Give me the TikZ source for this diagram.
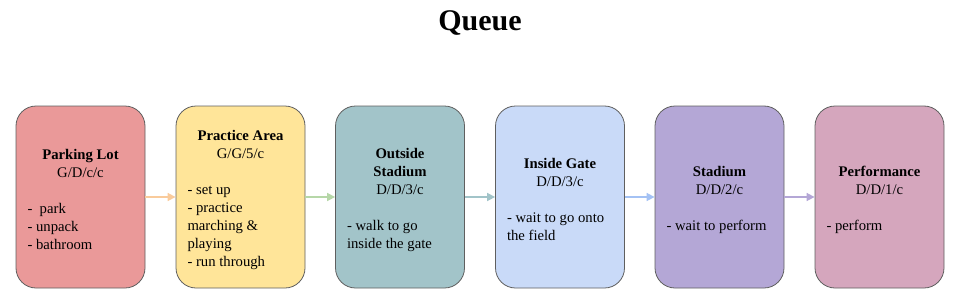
\documentclass[tikz,border=0pt]{standalone}
\usepackage{fontspec}
\setmainfont{Liberation Serif}
\newfontfamily\bodyfont{Liberation Serif}
\usetikzlibrary{arrows.meta}
\definecolor{c1}{HTML}{EA9999}
\definecolor{c2}{HTML}{FFE599}
\definecolor{c3}{HTML}{A2C4C9}
\definecolor{c4}{HTML}{C9DAF8}
\definecolor{c5}{HTML}{B4A7D6}
\definecolor{c6}{HTML}{D5A6BD}
\definecolor{a1}{HTML}{F9CB9C}
\definecolor{a2}{HTML}{B6D7A8}
\definecolor{a3}{HTML}{A2C4C9}
\definecolor{a4}{HTML}{A4C2F4}
\definecolor{a5}{HTML}{B4A7D6}
\definecolor{edge}{HTML}{5F5F5F}
\newcommand{\boxtext}[2]{\begin{minipage}{106pt}\bodyfont\fontsize{14.7}{18}\selectfont\centering #1\par\vspace{18pt}\raggedright #2\par\kern-5pt\end{minipage}}
\tikzset{
  stage/.style={draw=edge, line width=0.8pt, rounded corners=20pt, minimum width=129pt, minimum height=182pt, inner sep=0pt, fill=#1},
  flow/.style={draw=#1, line width=1.6pt, -{Triangle[length=8pt,width=8pt]}}
}
\begin{document}
\begin{tikzpicture}[x=1pt,y=-1pt]
\useasboundingbox (0,0) rectangle (960,297);
\node[font=\bodyfont\fontsize{30}{34}\selectfont\bfseries] (title) at (480,23) {Queue};
\node[stage=c1] (b1) at (80.5,197) {\boxtext{\textbf{Parking Lot}\\G/D/c/c}{-\ \ park\\- unpack\\- bathroom}};
\node[stage=c2] (b2) at (240.5,197) {\boxtext{\textbf{Practice Area}\\G/G/5/c}{- set up\\- practice\\marching \&\\playing\\- run through}};
\node[stage=c3] (b3) at (400,197) {\boxtext{\textbf{Outside}\\\textbf{Stadium}\\D/D/3/c}{- walk to go\\inside the gate}};
\node[stage=c4] (b4) at (560,197) {\boxtext{\textbf{Inside Gate}\\D/D/3/c}{- wait to go onto\\the field}};
\node[stage=c5] (b5) at (719.5,197) {\boxtext{\textbf{Stadium}\\D/D/2/c}{- wait to perform}};
\node[stage=c6] (b6) at (879.5,197) {\boxtext{\textbf{Performance}\\D/D/1/c}{- perform}};
\draw[flow=a1] (b1) -- (b2);
\draw[flow=a2] (b2) -- (b3);
\draw[flow=a3] (b3) -- (b4);
\draw[flow=a4] (b4) -- (b5);
\draw[flow=a5] (b5) -- (b6);
\end{tikzpicture}
\end{document}
